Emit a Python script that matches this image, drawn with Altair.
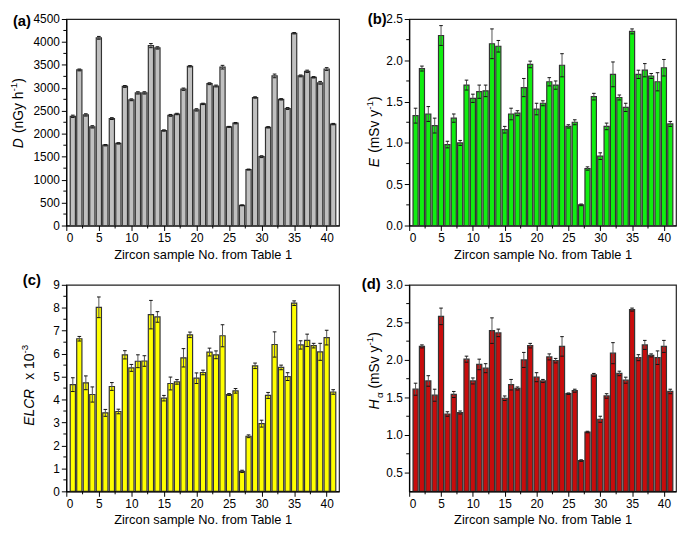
import altair as alt
import pandas as pd

FONT = "Liberation Sans"

samples = list(range(1, 42))

D_vals = [2380, 3390, 2410, 2150, 4090, 1750, 2330, 1790, 3030, 2740,
          2890, 2890, 3920, 3870, 2070, 2400, 2430, 2970, 3470, 2520,
          2650, 3090, 3040, 3450, 2150, 2230, 440, 1220, 2790, 1500,
          2140, 3260, 2750, 2550, 4190, 3260, 3360, 3230, 3110, 3410, 2210]
D_err = [25, 20, 25, 25, 30, 15, 20, 15, 20, 20,
         25, 25, 45, 25, 15, 20, 15, 25, 15, 25,
         15, 20, 20, 40, 10, 15, 10, 10, 15, 20,
         15, 40, 15, 20, 15, 20, 25, 15, 30, 30, 15]

E_vals = [1.33, 1.90, 1.35, 1.21, 2.30, 0.98, 1.30, 1.00, 1.70, 1.54,
          1.62, 1.63, 2.20, 2.17, 1.16, 1.35, 1.36, 1.67, 1.95, 1.41,
          1.48, 1.74, 1.70, 1.94, 1.20, 1.25, 0.25, 0.69, 1.56, 0.84,
          1.20, 1.83, 1.55, 1.43, 2.35, 1.83, 1.88, 1.81, 1.74, 1.91, 1.23]
E_err = [0.09, 0.03, 0.09, 0.09, 0.12, 0.04, 0.05, 0.03, 0.06, 0.05,
         0.08, 0.07, 0.18, 0.07, 0.04, 0.07, 0.03, 0.11, 0.04, 0.07,
         0.03, 0.05, 0.05, 0.14, 0.02, 0.03, 0.01, 0.02, 0.04, 0.04,
         0.04, 0.15, 0.03, 0.05, 0.03, 0.05, 0.08, 0.03, 0.11, 0.10, 0.03]

ELCR_vals = [4.65, 6.65, 4.73, 4.22, 8.02, 3.42, 4.57, 3.48, 5.95, 5.38,
             5.67, 5.68, 7.70, 7.60, 4.06, 4.70, 4.77, 5.82, 6.82, 4.93,
             5.18, 6.07, 5.95, 6.78, 4.22, 4.38, 0.87, 2.40, 5.47, 2.95,
             4.18, 6.40, 5.40, 5.00, 8.20, 6.38, 6.58, 6.35, 6.08, 6.70, 4.33]
ELCR_err = [0.30, 0.10, 0.30, 0.33, 0.45, 0.15, 0.17, 0.10, 0.18, 0.15,
            0.28, 0.23, 0.62, 0.23, 0.12, 0.28, 0.10, 0.40, 0.12, 0.23,
            0.10, 0.17, 0.17, 0.48, 0.04, 0.10, 0.05, 0.06, 0.12, 0.15,
            0.13, 0.55, 0.10, 0.17, 0.10, 0.18, 0.27, 0.10, 0.37, 0.32, 0.10]

H_vals = [1.61, 2.18, 1.72, 1.53, 2.58, 1.28, 1.54, 1.30, 2.01, 1.72,
          1.94, 1.89, 2.39, 2.36, 1.49, 1.67, 1.62, 2.00, 2.19, 1.77,
          1.72, 2.04, 1.99, 2.18, 1.55, 1.59, 0.66, 1.04, 1.80, 1.21,
          1.52, 2.09, 1.82, 1.73, 2.67, 2.03, 2.20, 2.06, 2.03, 2.18, 1.58]
H_err = [0.08, 0.02, 0.07, 0.08, 0.11, 0.03, 0.04, 0.02, 0.04, 0.04,
         0.07, 0.06, 0.17, 0.05, 0.03, 0.07, 0.02, 0.10, 0.03, 0.06,
         0.02, 0.04, 0.03, 0.13, 0.01, 0.02, 0.01, 0.01, 0.02, 0.04,
         0.03, 0.14, 0.03, 0.04, 0.02, 0.04, 0.06, 0.02, 0.09, 0.08, 0.03]

x_ticks = [0, 5, 10, 15, 20, 25, 30, 35, 40]
x_minor = [2.5, 7.5, 12.5, 17.5, 22.5, 27.5, 32.5, 37.5]
x_title = "Zircon sample No. from Table 1"

# approximate Arial advance widths (em)
CW = {"D": .722, "E": .667, "L": .556, "C": .722, "R": .722, "H": .722, " ": .278,
      "(": .333, ")": .333, "n": .556, "G": .778, "y": .5, "h": .556, "m": .833,
      "S": .667, "v": .5, "x": .5, "-": .333, "α": .58}


def tw(s, fs):
    return sum(CW.get(ch, .556) for ch in s) * fs


def txt(s, x, y, fs, style="normal", weight="normal", angle=0, align="left", baseline="middle"):
    return alt.Chart(pd.DataFrame({"t": [s]})).mark_text(
        font=FONT, fontSize=fs, fontStyle=style, fontWeight=weight, angle=angle,
        align=align, baseline=baseline, color="black"
    ).encode(text="t:N", x=alt.value(x), y=alt.value(y))


def ytitle(parts, xb, cy):
    total = sum(tw(t, fs) for t, _, fs, _ in parts)
    s = cy + total / 2
    out = []
    for t, st, fs, sh in parts:
        core = t.strip()
        s -= tw(t[:len(t) - len(t.lstrip())], fs)
        out.append(txt(core, xb + sh, s, fs, style=st, angle=270, align="left", baseline="alphabetic"))
        s -= tw(core, fs) + (1.5 if st == "italic" else 0)
    return out


def panel(vals, errs, fill, ydom, yticks, yminor, yfmt, W, H, label, lab_x, lab_y,
          tparts, t_xb, t_frac):
    df = pd.DataFrame({"n": samples, "v": vals, "e": errs})
    base = alt.Chart(df).transform_calculate(
        x0="datum.n-0.4", x1="datum.n+0.4",
        lo="datum.v-datum.e", hi="datum.v+datum.e",
        c0="datum.n-0.28", c1="datum.n+0.28")
    xs = alt.Scale(domain=[0, 41.9], nice=False, zero=False)
    ys = alt.Scale(domain=ydom, nice=False, zero=False)
    xa = alt.Axis(values=x_ticks, format="d", title=x_title)
    ya = alt.Axis(values=yticks, format=yfmt, title=None)
    bars = base.mark_bar(fill=fill, stroke="#333333", strokeWidth=1.2, clip=True).encode(
        x=alt.X("x0:Q", scale=xs, axis=xa),
        x2="x1:Q",
        y=alt.Y("v:Q", scale=ys, axis=ya),
        y2=alt.datum(ydom[0]),
    )
    stem = base.mark_rule(color="#555555", strokeWidth=1).encode(
        x=alt.X("n:Q", scale=xs, axis=xa),
        y=alt.Y("lo:Q", scale=ys, axis=ya), y2="hi:Q")
    cap_hi = base.mark_rule(color="#111111", strokeWidth=1).encode(
        x=alt.X("c0:Q", scale=xs, axis=xa), x2="c1:Q",
        y=alt.Y("hi:Q", scale=ys, axis=ya))
    cap_lo = base.mark_rule(color="#111111", strokeWidth=1).encode(
        x=alt.X("c0:Q", scale=xs, axis=xa), x2="c1:Q",
        y=alt.Y("lo:Q", scale=ys, axis=ya))
    ym = alt.Chart(pd.DataFrame({"m": yminor})).mark_rule(color="black").encode(
        y=alt.Y("m:Q", scale=ys, axis=ya), x=alt.value(0), x2=alt.value(-3))
    xm = alt.Chart(pd.DataFrame({"m": x_minor})).mark_rule(color="black").encode(
        x=alt.X("m:Q", scale=xs, axis=xa), y=alt.value(H), y2=alt.value(H + 3))
    lab = txt(label, lab_x, lab_y, 15, weight="bold")
    titles = ytitle(tparts, t_xb, H * t_frac)
    return alt.layer(bars, stem, cap_hi, cap_lo, ym, xm, lab, *titles).properties(width=W, height=H)


HT = 209
WL, WR = 276, 270

pa = panel(D_vals, D_err, "#c0c0c0", [0, 4500], list(range(0, 4501, 500)),
           list(range(250, 4500, 500)), "d", WL, HT, "(a)", -54, 2,
           [("D", "italic", 14, 0), (" (nGy h", "normal", 14, 0), ("-1", "normal", 10, -6),
            (")", "normal", 14, 0)], -44, 0.46)

pb = panel(E_vals, E_err, "#11ee11", [0, 2.5], [0, 0.5, 1.0, 1.5, 2.0, 2.5],
           [0.25, 0.75, 1.25, 1.75, 2.25], ".1f", WR, HT, "(b)", -42, 0,
           [("E", "italic", 14, 0), (" (mSv y", "normal", 14, 0), ("-1", "normal", 10, -6),
            (")", "normal", 14, 0)], -31, 0.55)

pc = panel(ELCR_vals, ELCR_err, "#ffff00", [0, 9], list(range(0, 10)),
           [0.5 + i for i in range(9)], "d", WL, HT, "(c)", -44, -5,
           [("ELCR", "italic", 14, 0), ("  x 10", "normal", 14, 0), ("-3", "normal", 10, -6)],
           -33, 0.49)

pd_ = panel(H_vals, H_err, "#c80c0c", [0.25, 3.0], [0.5, 1.0, 1.5, 2.0, 2.5, 3.0],
            [0.75, 1.25, 1.75, 2.25, 2.75], ".1f", WR, HT, "(d)", -48, -1,
            [("H", "italic", 14, 0), ("α", "normal", 10, 4), (" (mSv y", "normal", 14, 0),
             ("-1", "normal", 10, -6), (")", "normal", 14, 0)], -31, 0.42)

chart = alt.concat(pa, pb, pc, pd_, columns=2, spacing={"row": 60, "column": 71},
                   bounds="flush").properties(padding=0).configure_view(
    stroke="#222222", strokeWidth=1.2
).configure_axis(
    labelFont=FONT, labelFontSize=12, labelColor="black", labelPadding=2,
    titleFont=FONT, titleFontSize=13, titleFontWeight="normal", titleColor="black",
    titlePadding=5, tickColor="black", tickSize=5, domainColor="black", domainWidth=1.2,
    grid=False
)

chart.save("out.html", embed_options={"renderer": "svg", "actions": False})
